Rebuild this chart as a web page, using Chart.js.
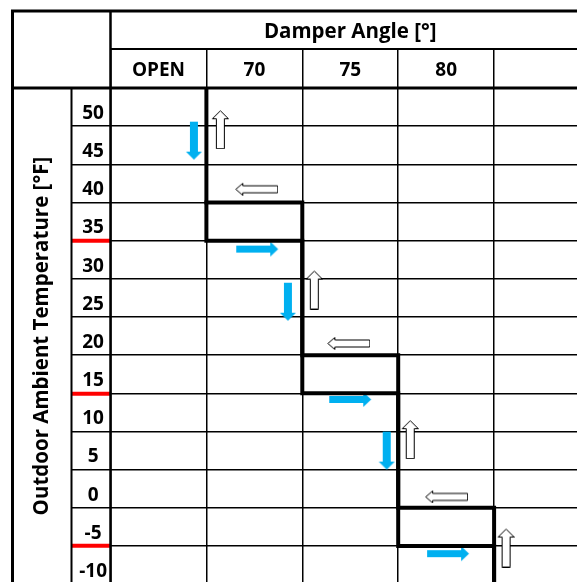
<!DOCTYPE html>
<html>
<head>
<meta charset="utf-8">
<title>Damper Angle / Outdoor Ambient Temperature</title>
<script src="https://cdn.jsdelivr.net/npm/chart.js@4"></script>
<style>
  html, body { margin: 0; padding: 0; background: #fff; overflow: hidden; }
  #wrap { width: 600px; height: 600px; }
</style>
</head>
<body>
<div id="wrap"><canvas id="chart" width="600" height="600"></canvas></div>
<script>
/* =========================
    DATA
========================= */

// Spalten (Damper Angle [°]) und Zeilen (Outdoor Ambient Temperature [°F])
const columns = ["OPEN", "70", "75", "80", ""];
const temps = [50, 45, 40, 35, 30, 25, 20, 15, 10, 5, 0, -5, -10];

// Zeile mit Umschalt-Kasten fuer Stufe 70 / 75 / 80
const bandTemps = [35, 15, -5];

// Pfeile (x = Spaltenposition, y = Temperatur)
const blueDown = [{ x: 0.87, y: 45.6 }, { x: 1.85, y: 24.5 }, { x: 2.88, y: 5.0 }];
const outlineUp = [{ x: 1.14, y: 47.1 }, { x: 2.12, y: 26.1 }, { x: 3.12, y: 6.5 }, { x: 4.12, y: -7.7 }];
const outlineLeft = [{ x: 1.52, y: 39.3 }, { x: 2.48, y: 19.1 }, { x: 3.50, y: -1.0 }];
const blueRight = [{ x: 1.53, y: 31.4 }, { x: 2.50, y: 11.7 }, { x: 3.52, y: -8.5 }];


/* =========================
    ABGELEITETE WERTE
========================= */

const HALF = 2.5;
const colEdges = columns.map((c, i) => i).concat(columns.length);
const rowEdges = temps.map(t => t + HALF).concat(temps[temps.length - 1] - HALF);
const redEdges = bandTemps.map(t => t - HALF);

// Stufenlinie unten + oben (Kasten je Stufe)
const lowerPath = [{ x: 1, y: rowEdges[0] }];
const upperPath = [];
bandTemps.forEach((t, i) => {
  const c = i + 1;
  lowerPath.push({ x: c, y: t - HALF }, { x: c + 1, y: t - HALF });
  upperPath.push({ x: c, y: t + HALF }, { x: c + 1, y: t + HALF });
});
lowerPath.push({ x: bandTemps.length + 1, y: rowEdges[rowEdges.length - 1] });
upperPath.push({ x: bandTemps.length + 1, y: rowEdges[rowEdges.length - 1] });


/* =========================
    PFEIL-SYMBOLE
========================= */

const BLUE = "#00B0F0";

function makeArrow(dir, filled) {
  const vertical = dir === "up" || dir === "down";
  const len = vertical ? 38 : 42;
  const shaft = vertical ? 8 : 7;
  const head = vertical ? 16 : (filled ? 15 : 12);
  const headLen = vertical ? 8 : (filled ? 8 : 7);
  const c = document.createElement("canvas");
  c.width = (vertical ? head : len) + 2;
  c.height = (vertical ? len : head) + 2;
  const ctx = c.getContext("2d");
  const ang = { right: 0, down: Math.PI / 2, left: Math.PI, up: -Math.PI / 2 }[dir];
  ctx.translate(c.width / 2 + (filled ? 0 : 0.5), c.height / 2 + (filled ? 0 : 0.5));
  ctx.rotate(ang);
  ctx.translate(-len / 2, 0);
  ctx.beginPath();
  ctx.moveTo(0, -shaft / 2);
  ctx.lineTo(len - headLen, -shaft / 2);
  ctx.lineTo(len - headLen, -head / 2);
  ctx.lineTo(len, 0);
  ctx.lineTo(len - headLen, head / 2);
  ctx.lineTo(len - headLen, shaft / 2);
  ctx.lineTo(0, shaft / 2);
  ctx.closePath();
  if (filled) {
    ctx.fillStyle = BLUE;
    ctx.fill();
  } else {
    ctx.fillStyle = "#fff";
    ctx.fill();
    ctx.lineWidth = 1;
    ctx.strokeStyle = "#000";
    ctx.stroke();
  }
  return c;
}


/* =========================
    TABELLEN-RAHMEN
========================= */

const TICK = 39;

function line(ctx, w, x1, y1, x2, y2) {
  ctx.lineWidth = w;
  ctx.beginPath();
  ctx.moveTo(x1, y1);
  ctx.lineTo(x2, y2);
  ctx.stroke();
}

const frameLines = {
  id: "frameLines",
  beforeDatasetsDraw(chart) {
    const { ctx, chartArea: a, scales: { x, y } } = chart;
    const W = chart.width, H = chart.height;
    ctx.save();
    ctx.strokeStyle = "#000";
    line(ctx, 3, y.left - 1.5, x.top, W, x.top);          // oben
    line(ctx, 3, y.left, x.top, y.left, H);              // links
    line(ctx, 2, a.left, x.bottom - TICK, W, x.bottom - TICK); // Kopfzeile Mitte
    line(ctx, 3, y.left, a.top, W, a.top);               // Kopfzeile unten
    line(ctx, 2.5, a.left, x.top, a.left, H);            // Achse
    line(ctx, 2, a.left - TICK, a.top, a.left - TICK, H); // Beschriftungsspalte
    ctx.restore();
  }
};


/* =========================
    CHART
========================= */

const FONT = "'Open Sans', 'Noto Sans', sans-serif";
const bold = size => ({ family: FONT, size, weight: "bold" });

new Chart(document.getElementById("chart"), {
  type: "line",
  data: {
    datasets: [
      {
        data: lowerPath, borderColor: "#000", borderWidth: 4, pointRadius: 0,
        borderCapStyle: "square", borderJoinStyle: "miter", tension: 0
      },
      {
        data: upperPath, borderColor: "#000", borderWidth: 4, pointRadius: 0,
        borderCapStyle: "square", borderJoinStyle: "miter", tension: 0
      },
      { data: blueDown, showLine: false, pointRadius: 1, pointStyle: makeArrow("down", true) },
      { data: outlineUp, showLine: false, pointRadius: 1, pointStyle: makeArrow("up", false) },
      { data: outlineLeft, showLine: false, pointRadius: 1, pointStyle: makeArrow("left", false) },
      { data: blueRight, showLine: false, pointRadius: 1, pointStyle: makeArrow("right", true) }
    ]
  },
  options: {
    responsive: false,
    animation: false,
    events: [],
    layout: { padding: { left: 12.5, top: 11, right: 10, bottom: 15.8 } },
    plugins: { legend: { display: false }, tooltip: { enabled: false } },
    scales: {
      x: {
        type: "linear",
        position: "top",
        min: 0,
        max: columns.length,
        afterFit: s => { s.height = 77; },
        afterBuildTicks: s => { s.ticks = colEdges.map(v => ({ value: v })); },
        border: { display: false },
        grid: { color: "#000", lineWidth: 1.5, tickLength: TICK, tickColor: "#000", tickWidth: 1.5 },
        ticks: {
          callback: v => columns[v] || "",
          labelOffset: 48,
          padding: -33,
          autoSkip: false,
          maxRotation: 0,
          color: "#000",
          font: bold(19)
        },
        title: {
          display: true,
          text: "Damper Angle [\u00B0]",
          color: "#000",
          font: bold(20.5),
          padding: { top: 9, bottom: 0 }
        }
      },
      y: {
        type: "linear",
        position: "left",
        min: rowEdges[rowEdges.length - 1],
        max: rowEdges[0],
        afterFit: s => { s.width = 98; },
        afterBuildTicks: s => { s.ticks = rowEdges.map(v => ({ value: v })); },
        border: { display: false },
        grid: {
          color: "#000",
          lineWidth: 1.5,
          tickLength: TICK,
          tickColor: c => redEdges.includes(c.tick.value) ? "#FF0000" : "#000",
          tickWidth: c => redEdges.includes(c.tick.value) ? 4 : 1.5
        },
        ticks: {
          callback: v => {
            const i = rowEdges.indexOf(v);
            return i < temps.length ? String(temps[i]) : "";
          },
          labelOffset: 25.5,
          padding: -35.5,
          crossAlign: "center",
          autoSkip: false,
          color: "#000",
          font: bold(19)
        },
        title: {
          display: true,
          text: "Outdoor Ambient Temperature [\u00B0F]",
          color: "#000",
          font: bold(20.5),
          padding: { top: 17, bottom: 0 }
        }
      }
    }
  },
  plugins: [frameLines]
});
</script>
</body>
</html>
